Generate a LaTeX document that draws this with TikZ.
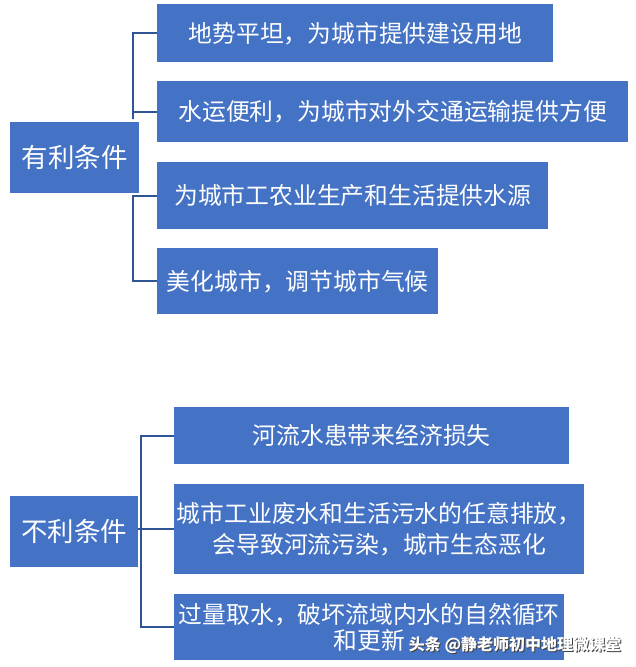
\documentclass[tikz,border=0pt]{standalone}
\usepackage{fontspec}
\newfontfamily\cjk{Noto Sans CJK SC}
\definecolor{boxblue}{HTML}{4472C4}
\definecolor{linkblue}{HTML}{2F5597}
\begin{document}
\begin{tikzpicture}[x=1pt, y=-1pt,
	box/.style={fill=boxblue, text=white, inner sep=0pt, align=center, anchor=north west,
		font=\cjk\fontsize{23.8}{31}\selectfont},
	root/.style={box, font=\cjk\fontsize{26.5}{30}\selectfont},
	link/.style={draw=linkblue, line width=2pt}]
		\useasboundingbox (0,0) rectangle (636,667);
		% favourable
		\node[root, minimum width=129, minimum height=71] (good) at (10,122) {有利条件};
		\foreach \n/\xr/\yt/\yb/\txt in {1/553/4/62/地势平坦，为城市提供建设用地,
			2/628/81/142/水运便利，为城市对外交通运输提供方便,
			3/548/162/229/为城市工农业生产和生活提供水源,
			4/438/248/314/美化城市，调节城市气候}{
			\node[box, minimum width={\xr-157}, minimum height={\yb-\yt}] (g\n) at (157,\yt) {\txt};}
		\coordinate (gup) at ([shift={(-6,-3)}]good.north east);
		\coordinate (gdown) at ([shift={(-6,3)}]good.south east);
		\draw[link] (g1.west) -| (gup) |- (g2.west);
		\draw[link] (g3.west) -| (gdown) |- (g4.west);
		% unfavourable
		\node[root, minimum width=128, minimum height=71] (bad) at (10,496) {不利条件};
		\foreach \n/\xr/\yt/\yb/\txt in {1/569/407/464/河流水患带来经济损失,
			2/584/484/574/{城市工业废水和生活污水的任意排放，\\会导致河流污染，城市生态恶化},
			3/564/594/660/{过量取水，破坏流域内水的自然循环\\[-5.4pt]和更新}}{
			\node[box, minimum width={\xr-174}, minimum height={\yb-\yt}] (b\n) at (174,\yt) {\txt};}
		\coordinate (fork) at ([xshift=3pt]bad.east |- b2.west);
		\draw[link] (b1.west) -| (fork) |- (b3.west);
		\draw[link] (bad.east |- b2.west) -- (b2.west);
		% watermark
		\node[text=black!75, font=\cjk\bfseries\fontsize{16}{18}\selectfont] (markshadow) at (516,646) {头条 @静老师初中地理微课堂};
		\node[text=white, font=\cjk\bfseries\fontsize{16}{18}\selectfont] (mark) at (515,645) {头条 @静老师初中地理微课堂};
\end{tikzpicture}
\end{document}
